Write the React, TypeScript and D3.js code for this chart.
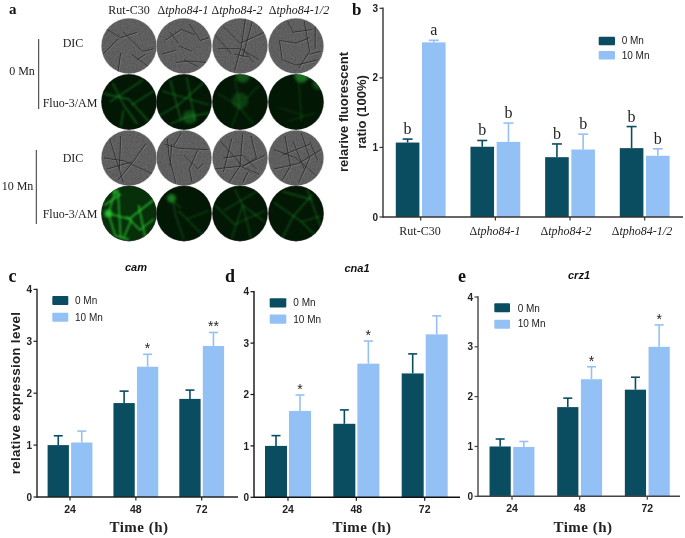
import React from "react";
import * as d3 from "d3";

const DARK = "#0a4d61";
const LIGHT = "#93c1f6";
const SANS = "'Liberation Sans', Arial, sans-serif";
const SERIF = "'Liberation Serif', 'Times New Roman', serif";

const series = ["0 Mn", "10 Mn"];
const strains = ["Rut-C30", "tpho84-1", "tpho84-2", "tpho84-1/2"];
const hours = ["24", "48", "72"];

// panel b
const bMeans = [[1.07, 1.01, 0.86, 0.99], [2.51, 1.08, 0.97, 0.88]];
const bTops = [[1.12, 1.10, 1.05, 1.30], [2.54, 1.35, 1.19, 0.98]];
const bLetters = [["b", "b", "b", "b"], ["a", "b", "b", "b"]];

// panels c, d, e
const camMeans = [[1.0, 1.81, 1.89], [1.05, 2.51, 2.91]];
const camTops = [[1.18, 2.04, 2.06], [1.27, 2.75, 3.17]];
const camStars = ["", "*", "**"];
const cnaMeans = [[1.0, 1.43, 2.41], [1.68, 2.6, 3.17]];
const cnaTops = [[1.2, 1.7, 2.79], [1.99, 3.04, 3.53]];
const cnaStars = ["*", "*", ""];
const crzMeans = [[1.0, 1.79, 2.14], [0.99, 2.35, 3.0]];
const crzTops = [[1.15, 1.97, 2.39], [1.1, 2.6, 3.44]];
const crzStars = ["", "*", "*"];

// panel a: micrograph filaments, unit-circle coordinates
const dicTop = [
  [[-0.8,-0.6,-0.3,-0.3,0.3,-0.5],[-0.3,0.25,-0.4,0.95],[-0.95,0.3,-0.4,-0.25],[0.1,0.3,0.7,0.75],[-0.2,-0.5,0.5,0.2,0.9,0.1],[0.3,0.5,0.6,0.3]],
  [[-0.7,-0.2,-0.1,-0.6,0.4,-0.4],[-0.3,0.6,0.2,0.55,0.8,0.6],[-0.2,0,0.3,0.2],[0.2,-0.8,0.6,-0.2,0.9,-0.3],[-0.8,0.3,-0.3,0.15],[0,0.5,0.5,0.75],[-0.5,-0.5,-0.2,-0.1]],
  [[-0.6,-0.7,0,-0.1,0.9,-0.5],[0.2,-1,0.05,0,-0.2,0.9],[-0.8,0.1,0,0.1,0.7,0.5],[0.45,-0.9,0.1,0.4],[-0.9,-0.4,-0.3,0.3],[0.1,0.1,0.5,0.6],[-0.2,0.3,0.3,0.4]],
  [[-0.6,-0.2,-0.5,0.5,0,0.7,0.8,0.5],[-0.6,-0.2,0,-0.1,0.5,-0.3],[0.3,-0.9,0.5,0.2,0.1,0.8],[-0.3,-0.9,-0.1,-0.5,0.6,-0.6],[0.5,0.3,0.9,0.2],[0.7,-0.7,0.7,0.1]],
];
const fluoTop = [
  [[-0.9,-0.3,0,-0.1,0.8,0.8],[-0.6,-0.7,-0.2,0.1,0.3,0.8],[-0.7,0,0.5,-0.8],[-0.3,0.9,-0.2,0.3],[0.1,0.1,0.9,-0.4]],
  [[-0.9,0.5,-0.2,0.1,0.7,-0.7],[-0.5,-0.8,-0.1,0.7],[0.1,-0.9,0.4,0.7],[-0.5,0.8,0.1,0.55,0.9,0.4],[-0.8,-0.4,0.9,0.1]],
  [[-0.8,-0.3,-0.1,0.1,0.5,0.8],[-0.2,-0.9,0,0.1,-0.3,0.9],[0.2,-0.1,0.7,-0.6]],
  [[0,-0.95,0.7,-0.8],[-0.6,0.2,0.3,0.5],[0.1,-0.8,0.2,0.7],[-0.3,0.7,0.7,0.4]],
];
const dicBottom = [
  [[-0.7,-0.7,-0.2,0.9],[-0.9,0,-0.2,0.1,0.9,0.6],[-0.3,-0.8,-0.35,0.4],[0.6,-0.5,0.1,0.2,-0.4,0.8],[-0.8,0.4,0.1,0.15]],
  [[-0.6,-0.7,-0.55,-0.1,-0.3,0.9],[-0.7,-0.5,-0.2,-0.35,0.9,-0.3],[0.5,-0.3,0.2,0.4,0.3,0.9],[0,-0.1,0.5,0.4,0.7,0.2],[-0.1,-0.9,-0.4,-0.4],[-0.45,-0.5,-0.5,0.3]],
  [[-0.7,-0.6,0.1,0.3,0.9,-0.1],[0.1,-0.9,0,0.3,-0.4,0.9],[-0.9,0.4,0,0.3,0.7,0.6],[-0.6,0,0.1,-0.1,0.6,0.4],[0.4,-0.8,0.6,0,0.1,0.3],[-0.3,-0.7,-0.6,0.5],[0.3,0.5,0.1,0.9]],
  [[-0.8,-0.3,0,0,0.8,0.7],[-0.4,-0.8,-0.2,0.3,-0.5,0.8],[0.2,-0.9,0.5,0,0.1,0.9],[-0.8,0.4,0.1,0.2,0.9,-0.3],[-0.5,-0.1,0.5,-0.5],[-0.1,-0.6,0.3,0.4],[0.5,-0.6,0.8,0.1]],
];
const fluoBottom = [
  [[-0.75,0,-0.5,-0.8],[-0.75,0,-0.5,0.8,0,0.95],[-0.75,0,0,0.2,0.9,-0.5],[-0.4,-0.8,-0.3,0.9],[0.35,-0.3,0.6,0.9],[-0.1,0.1,0.4,0.6,0.9,0.2],[0.1,0.2,-0.2,0.9],[-0.9,-0.3,-0.3,-0.7]],
  [[-0.6,-0.6,-0.1,-0.2],[-0.4,-0.4,-0.3,0.1,0,0.95],[-0.2,-0.1,0.8,0.9],[0.1,0.2,0.9,-0.1]],
  [[-0.9,-0.3,-0.2,0.4,0.9,-0.1],[-0.3,0.9,0.1,-0.3,0.9,0.3],[-0.2,-0.9,0.1,-0.3,0.4,0.9],[-0.6,-0.1,0.6,-0.8]],
  [[-0.8,-0.4,0.2,0.3,0.7,0.8],[-0.5,-0.8,0.6,-0.5],[0.4,-0.9,0.9,0.5],[-0.5,0.9,-0.1,0.1,0.6,-0.7],[0.2,0.3,0.9,0.1]],
];
// bright patches: row, column, x, y, radius, opacity
const glowSpots = [
  [1, 2, 0.0, -0.05, 0.3, 0.22],
  [1, 2, 0.1, -0.95, 0.25, 0.35],
  [1, 3, 0.2, -0.95, 0.25, 0.5],
  [1, 3, 0.8, -0.65, 0.2, 0.3],
  [1, 1, 0.2, 0.55, 0.25, 0.3],
  [3, 0, -0.75, 0, 0.14, 0.95],
  [3, 0, -0.5, -0.8, 0.12, 0.6],
  [3, 1, -0.45, -0.55, 0.16, 0.55],
];

const colCenters = [129, 184, 240, 296];
const rowCenters = [46, 102, 158, 213.5];
const R = 27.5;
const brightness = [
  [0.6, 0.55, 0.3, 0.28],
  [0.85, 0.4, 0.42, 0.48],
];

function Strain({ name, x, y, anchor = "middle", size = 12 }: any) {
  const isDelta = name.startsWith("tpho");
  return (
    <text x={x} y={y} textAnchor={anchor} fontFamily={SERIF} fontSize={size} fill="#222">
      {isDelta ? (<><tspan>Δ</tspan><tspan fontStyle="italic">{name}</tspan></>) : name}
    </text>
  );
}

function Filaments({ lines, cx, cy, color, width, opacity }: any) {
  const ux = d3.scaleLinear().domain([-1, 1]).range([cx - R, cx + R]);
  const uy = d3.scaleLinear().domain([-1, 1]).range([cy - R, cy + R]);
  const gen = d3.line<number[]>().x((p) => ux(p[0])).y((p) => uy(p[1]));
  return (
    <g>
      {lines.map((l: number[], i: number) => {
        const pts = d3.range(0, l.length, 2).map((k) => [l[k], l[k + 1]]);
        return <path key={i} d={gen(pts) || ""} fill="none" stroke={color} strokeWidth={width} strokeOpacity={opacity} strokeLinejoin="round" />;
      })}
    </g>
  );
}

function Micrographs() {
  const rows = [
    { lines: dicTop, fluo: false },
    { lines: fluoTop, fluo: true },
    { lines: dicBottom, fluo: false },
    { lines: fluoBottom, fluo: true },
  ];
  return (
    <g>
      <defs>
        <filter id="soft" x="-10%" y="-10%" width="120%" height="120%" colorInterpolationFilters="sRGB"><feGaussianBlur stdDeviation="0.45" /></filter>
        <filter id="glow" x="-10%" y="-10%" width="120%" height="120%" colorInterpolationFilters="sRGB"><feGaussianBlur stdDeviation="0.8" /></filter>
        <filter id="spot" x="-100%" y="-100%" width="300%" height="300%" colorInterpolationFilters="sRGB"><feGaussianBlur stdDeviation="1.8" /></filter>
        <filter id="grain" x="0" y="0" width="100%" height="100%" colorInterpolationFilters="sRGB">
          <feTurbulence type="fractalNoise" baseFrequency="0.6" numOctaves={2} seed={4} />
          <feColorMatrix values="0 0 0 0 0.1  0 0 0 0 0.1  0 0 0 0 0.1  1.6 0 0 0 -0.55" />
        </filter>
        {rows.flatMap((_, r) =>
          colCenters.map((cx, c) => (
            <clipPath id={`clip-${r}-${c}`} key={`${r}-${c}`}><circle cx={cx} cy={rowCenters[r]} r={R} /></clipPath>
          ))
        )}
      </defs>
      {rows.map((row, r) =>
        colCenters.map((cx, c) => {
          const cy = rowCenters[r];
          return (
            <g key={`${r}-${c}`}>
              <circle cx={cx} cy={cy} r={R + 0.4} fill={row.fluo ? "#444" : "#aaa"} />
              <g clipPath={`url(#clip-${r}-${c})`}>
                <circle cx={cx} cy={cy} r={R} fill={row.fluo ? (r === 3 && c === 0 ? "#062f0a" : "#031705") : "#646464"} />
                {row.fluo ? (
                  <g>
                    <g filter="url(#spot)">
                      {glowSpots.filter((s) => s[0] === r && s[1] === c).map((s, i) => (
                        <circle key={i} cx={cx + s[2] * R} cy={cy + s[3] * R} r={s[4] * R} fill="#2ec436" fillOpacity={s[5]} />
                      ))}
                    </g>
                    <g filter="url(#glow)">
                      <Filaments lines={row.lines[c]} cx={cx} cy={cy} color={r === 3 && c === 0 ? "#2bc42f" : "#1f9a28"} width={r === 3 && c === 0 ? 1.6 : 1.3} opacity={brightness[r === 3 ? 1 : 0][c]} />
                    </g>
                  </g>
                ) : (
                  <g>
                    <rect x={cx - R} y={cy - R} width={2 * R} height={2 * R} filter="url(#grain)" opacity={0.25} />
                    <g filter="url(#soft)">
                      <Filaments lines={row.lines[c]} cx={cx + 0.8} cy={cy + 0.8} color="#c0c0c0" width={0.6} opacity={0.4} />
                      <Filaments lines={row.lines[c]} cx={cx} cy={cy} color="#1e1e1e" width={0.9} opacity={0.75} />
                    </g>
                  </g>
                )}
              </g>
            </g>
          );
        })
      )}
      {strains.map((s, i) => (
        <Strain key={s} name={s} x={[129, 183, 237, 299][i]} y={14} />
      ))}
      {[["DIC", 73, 47], ["Fluo-3/AM", 70, 107], ["DIC", 73, 162], ["Fluo-3/AM", 70, 218], ["0 Mn", 22, 75], ["10 Mn", 17.5, 190]].map(([t, x, y], i) => (
        <text key={i} x={x as number} y={y as number} textAnchor="middle" fontFamily={SERIF} fontSize={12} fill="#222">{t}</text>
      ))}
      <line x1={38.7} x2={38.7} y1={39} y2={109} stroke="#333" strokeWidth={1} />
      <line x1={36.3} x2={36.3} y1={150} y2={224} stroke="#333" strokeWidth={1} />
    </g>
  );
}

function Legend({ x, ys, w, h, tx, tb, size = 10 }: any) {
  return (
    <g>
      {series.map((s, i) => (
        <g key={s}>
          <rect x={x} y={ys[i]} width={w} height={h} rx={1} fill={i ? LIGHT : DARK} />
          <text x={tx} y={tb[i]} fontFamily={SANS} fontSize={size} fill="#222">{s}</text>
        </g>
      ))}
    </g>
  );
}

function Bars({ cats, means, tops, xs, y, barW, gap, cap }: any) {
  return (
    <g>
      {series.map((_, si) => cats.map((cat: string, ci: number) => {
        const cx = xs(cat) as number;
        const bx = si === 0 ? cx - gap / 2 - barW : cx + gap / 2;
        const mid = bx + barW / 2;
        const color = si ? LIGHT : DARK;
        return (
          <g key={`${si}-${ci}`}>
            <line x1={mid} x2={mid} y1={y(means[si][ci])} y2={y(tops[si][ci])} stroke={color} strokeWidth={1.6} />
            <line x1={mid - cap / 2} x2={mid + cap / 2} y1={y(tops[si][ci])} y2={y(tops[si][ci])} stroke={color} strokeWidth={1.6} />
            <rect x={bx} y={y(means[si][ci])} width={barW} height={y(0) - y(means[si][ci])} fill={color} />
          </g>
        );
      }))}
    </g>
  );
}

function YAxis({ x, y, ticks, color }: any) {
  return (
    <g>
      <line x1={x} x2={x} y1={y(ticks[ticks.length - 1]) - 0.7} y2={y(0) + 0.7} stroke={color} strokeWidth={1.4} />
      {ticks.map((t: number) => (
        <g key={t}>
          <line x1={x - 3.5} x2={x} y1={y(t)} y2={y(t)} stroke={color} strokeWidth={1.2} />
          <text x={x - 5} y={y(t) + 3.6} textAnchor="end" fontFamily={SANS} fontWeight="bold" fontSize={10} fill="#222">{t}</text>
        </g>
      ))}
    </g>
  );
}

function Expression({ title, titleX, titleY, letter, letterX, means, tops, stars, x0, y0, y4, centers, xEnd, barW, gap, legend, timeX, color, ylabel }: any) {
  const y = d3.scaleLinear().domain([0, 4]).range([y0, y4]);
  const xs = d3.scalePoint<string>().domain(hours).range(centers);
  return (
    <g>
      <text x={letterX} y={282} fontFamily={SERIF} fontWeight="bold" fontSize={18} fill="#111">{letter}</text>
      <text x={titleX} y={titleY} textAnchor="middle" fontFamily={SANS} fontWeight="bold" fontStyle="italic" fontSize={11} fill="#111">{title}</text>
      <Bars cats={hours} means={means} tops={tops} xs={xs} y={y} barW={barW} gap={gap} cap={9} />
      <YAxis x={x0} y={y} ticks={[0, 1, 2, 3, 4]} color={color} />
      <line x1={x0} x2={xEnd} y1={y0} y2={y0} stroke={color} strokeWidth={1.4} />
      {hours.map((h) => (
        <g key={h}>
          <line x1={xs(h)} x2={xs(h)} y1={y0} y2={y0 + 3.5} stroke={color} strokeWidth={1.2} />
          <text x={xs(h)} y={y0 + 16} textAnchor="middle" fontFamily={SANS} fontWeight="bold" fontSize={10.5} fill="#222">{h}</text>
        </g>
      ))}
      {stars.map((s: string, i: number) => {
        if (!s) return null;
        return (
          <text key={i} x={(xs(hours[i]) as number) + gap / 2 + barW / 2} y={y(tops[1][i]) - 1} textAnchor="middle" fontFamily={SANS} fontSize={14} fill="#222">{s}</text>
        );
      })}
      <Legend {...legend} />
      <text x={timeX} y={532} textAnchor="middle" fontFamily={SERIF} fontWeight="bold" fontSize={15} letterSpacing={0.5} fill="#222">Time (h)</text>
      {ylabel && (
        <text transform={`translate(20,393) rotate(-90)`} textAnchor="middle" fontFamily={SANS} fontWeight="bold" fontSize={13.4} letterSpacing={0.3} fill="#222">{ylabel}</text>
      )}
    </g>
  );
}

function PanelB() {
  const y = d3.scaleLinear().domain([0, 3]).range([217, 8.3]);
  const xs = d3.scalePoint<string>().domain(strains).range([420.7, 644.7]);
  const labelX = [420, 495, 566, 642];
  const barW = 23.6, gap = 2.6;
  return (
    <g>
      <text x={352} y={15} fontFamily={SERIF} fontWeight="bold" fontSize={17} fill="#111">b</text>
      <Bars cats={strains} means={bMeans} tops={bTops} xs={xs} y={y} barW={barW} gap={gap} cap={10} />
      <YAxis x={383} y={y} ticks={[0, 1, 2, 3]} color="#333" />
      <line x1={383} x2={683} y1={217} y2={217} stroke="#333" strokeWidth={1.4} />
      {strains.map((s, i) => (
        <g key={s}>
          <line x1={xs(s)} x2={xs(s)} y1={217} y2={220.5} stroke="#333" strokeWidth={1.2} />
          <Strain name={s} x={labelX[i]} y={235} />
        </g>
      ))}
      {series.map((_, si) => strains.map((s, ci) => (
        <text key={`${si}-${ci}`} x={(xs(s) as number) + (si ? gap / 2 + barW / 2 : -gap / 2 - barW / 2)} y={y(bTops[si][ci]) - 5} textAnchor="middle" fontFamily={SERIF} fontSize={16} fill="#222">{bLetters[si][ci]}</text>
      )))}
      <Legend x={598.7} ys={[36.7, 51]} w={16.3} h={8.5} tx={621.7} tb={[43.5, 59]} />
      <text transform="translate(348,112) rotate(-90)" textAnchor="middle" fontFamily={SANS} fontWeight="bold" fontSize={13} fill="#222">relarive fluorescent</text>
      <text transform="translate(366,112) rotate(-90)" textAnchor="middle" fontFamily={SANS} fontWeight="bold" fontSize={13} fill="#222">ratio (100%)</text>
    </g>
  );
}

export default function App() {
  return (
    <svg width={685} height={538} style={{ position: "absolute", left: 0, top: 0, background: "#fff" }}>
      <defs>
        <filter id="scan" x="0" y="0" width="100%" height="100%" colorInterpolationFilters="sRGB"><feGaussianBlur stdDeviation="0.3" /></filter>
      </defs>
      <g filter="url(#scan)">
        <rect x={0} y={0} width={685} height={538} fill="#fff" />
        <text x={9} y={13.6} fontFamily={SERIF} fontWeight="bold" fontSize={15} fill="#111">a</text>
        <Micrographs />
        <PanelB />
        <Expression title="cam" titleX={136} titleY={271} letter="c" letterX={8.5} means={camMeans} tops={camTops} stars={camStars}
          x0={37} y0={497} y4={289.4} centers={[70, 201.7]} xEnd={238} barW={21.3} gap={2.2} timeX={139} color="#222" ylabel="relative expression level"
          legend={{ x: 52.3, ys: [296, 312.7], w: 16, h: 9, tx: 75, tb: [303.7, 320.7] }} />
        <Expression title="cna1" titleX={357} titleY={272} letter="d" letterX={225} means={cnaMeans} tops={cnaTops} stars={cnaStars}
          x0={254} y0={497.3} y4={291.7} centers={[288, 424.7]} xEnd={460} barW={22} gap={2} timeX={362} color="#111"
          legend={{ x: 269.7, ys: [298.3, 314.5], w: 16.6, h: 9.3, tx: 293.3, tb: [306, 322.7] }} />
        <Expression title="crz1" titleX={579} titleY={279} letter="e" letterX={458} means={crzMeans} tops={crzTops} stars={crzStars}
          x0={478} y0={496.3} y4={297} centers={[512, 647.3]} xEnd={680} barW={21.2} gap={2.5} timeX={583} color="#444"
          legend={{ x: 494.3, ys: [303.3, 319.7], w: 15.7, h: 9, tx: 517.7, tb: [311.7, 327.3] }} />
      </g>
    </svg>
  );
}
